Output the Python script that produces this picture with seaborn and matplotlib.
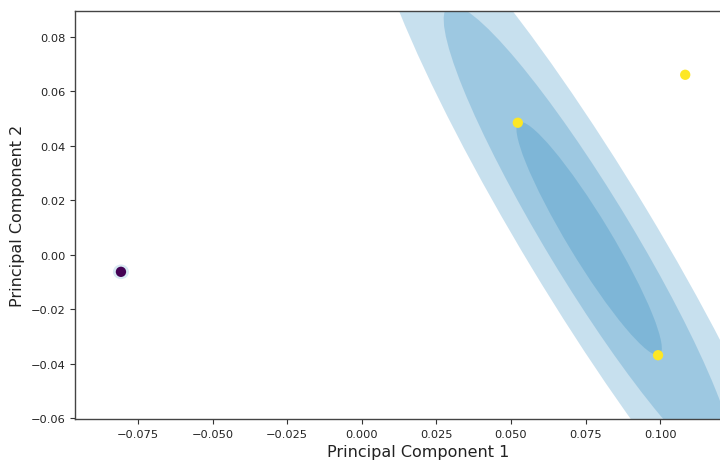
import numpy as np
import pandas as pd
import matplotlib
matplotlib.use("Agg")
import matplotlib.pyplot as plt
from matplotlib.patches import Ellipse
import seaborn as sns

# Data
pc1 = [-0.0807, 0.0523, 0.0993, 0.1084]
pc2 = [-0.0062, 0.0485, -0.0368, 0.0661]
cluster = [0, 1, 1, 1]
cluster_colors = {0: "#440154", 1: "#fde725"}

# Gaussian components (mean, covariance, weight)
comp_means = [[-0.0807, -0.0062], [0.0762, 0.0060]]
comp_covs = [
    [[8e-7, 0.0], [0.0, 8e-7]],
    [[5.94e-4, -9.80e-4], [-9.80e-4, 1.832e-3]],
]
comp_weights = [0.7, 1.0]

x_ticks = [-0.075, -0.050, -0.025, 0.000, 0.025, 0.050, 0.075, 0.100]
y_ticks = [-0.06, -0.04, -0.02, 0.00, 0.02, 0.04, 0.06, 0.08]

df = pd.DataFrame({"PC1": pc1, "PC2": pc2, "cluster": cluster})

sns.set_style("ticks")
plt.rcParams['font.family'] = ['DejaVu Sans']

fig = plt.figure(figsize=(7.2, 4.64), dpi=100)
ax = fig.add_axes([75 / 720, 44 / 464, 686 / 720, 408 / 464])


def draw_ellipse(position, covariance, ax, **kwargs):
    cov = np.asarray(covariance)
    U, s, Vt = np.linalg.svd(cov)
    angle = np.degrees(np.arctan2(U[1, 0], U[0, 0]))
    width, height = 2 * np.sqrt(s)
    for nsig in range(1, 4):
        ax.add_patch(Ellipse(position, nsig * width, nsig * height,
                             angle=angle, lw=0, **kwargs))


w_max = max(comp_weights)
for m, c, w in zip(comp_means, comp_covs, comp_weights):
    draw_ellipse(m, c, ax, color="#2384bc", alpha=0.25 * w / w_max)

sns.scatterplot(data=df, x="PC1", y="PC2", hue="cluster", palette=cluster_colors,
                s=55, linewidth=0, legend=False, ax=ax, zorder=3)

ax.set_xlim(-0.0961, 0.1338)
ax.set_ylim(-0.0602, 0.0895)
ax.set_xticks(x_ticks)
ax.set_yticks(y_ticks)
ax.set_xticklabels([f"{v:.3f}".replace("-", "\u2212") for v in x_ticks])
ax.set_yticklabels([f"{v:.2f}".replace("-", "\u2212") for v in y_ticks])
ax.tick_params(labelsize=8.2, length=3.5, width=0.8, color="#333333", labelcolor="#222222")
for sp in ax.spines.values():
    sp.set_color("#444444")
    sp.set_linewidth(1.0)

ax.set_xlabel("Principal Component 1", fontsize=11.5, color="#222222")
ax.set_ylabel("Principal Component 2", fontsize=11.5, color="#222222")

fig.savefig("out.png", dpi=100)
